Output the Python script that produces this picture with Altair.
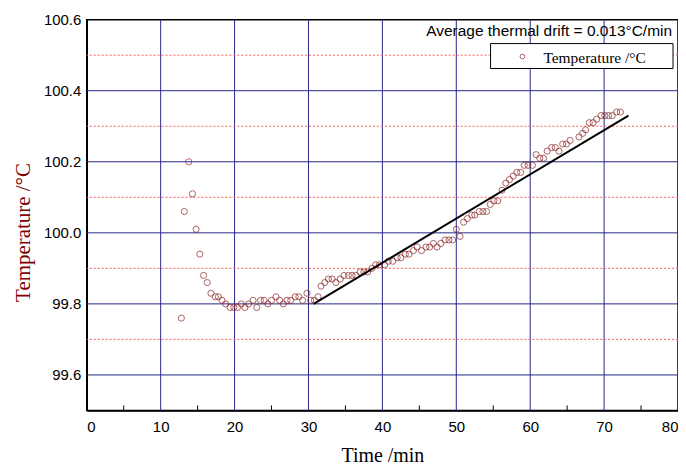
import altair as alt
import pandas as pd

# ---- data ----
time_min = [12.8, 13.2, 13.8, 14.3, 14.8, 15.3, 15.8, 16.3, 16.8, 17.4, 17.8, 18.3, 18.8, 19.4,
            19.9, 20.4, 20.9, 21.4, 21.9, 22.5, 23.0, 23.5, 24.0, 24.5, 25.0, 25.6, 26.1, 26.6,
            27.1, 27.6, 28.2, 28.7, 29.2, 29.8, 30.3, 30.8, 31.3,
            31.7, 32.2, 32.7, 33.2, 33.7, 34.3, 34.8, 35.4, 35.9, 36.4, 37.0, 37.5, 38.0, 38.6,
            39.1, 39.6, 40.3, 40.8, 41.4, 42.0, 42.5, 43.1, 43.6, 44.2, 44.7, 45.3, 45.9, 46.4,
            46.9, 47.4, 47.9, 48.5, 49.0, 49.5, 50.0, 50.5, 51.0, 51.5, 52.1, 52.5, 53.1, 53.6,
            54.1, 54.6, 55.1, 55.6, 56.2, 56.7, 57.2, 57.7, 58.2, 58.7, 59.2, 59.7, 60.3, 60.8,
            61.3, 61.8, 62.3, 62.9, 63.4, 63.9, 64.4, 64.9, 65.4, 66.6, 67.1, 67.5, 68.0, 68.5,
            69.0, 69.6, 70.1, 70.6, 71.1, 71.7, 72.2]
temperature = [99.76, 100.06, 100.20, 100.11, 100.01, 99.94, 99.88, 99.86, 99.83, 99.82, 99.82,
               99.81, 99.80, 99.79, 99.79, 99.79, 99.80, 99.79, 99.80, 99.81, 99.79, 99.81, 99.81,
               99.80, 99.81, 99.82, 99.81, 99.80, 99.81, 99.81, 99.82, 99.82, 99.81, 99.83, 99.81,
               99.81, 99.82,
               99.85, 99.86, 99.87, 99.87, 99.86, 99.87, 99.88, 99.88, 99.88, 99.88, 99.89, 99.89,
               99.89, 99.90, 99.91, 99.91, 99.91, 99.92, 99.92, 99.93, 99.93, 99.94, 99.94, 99.95,
               99.96, 99.95, 99.96, 99.96, 99.97, 99.96, 99.97, 99.98, 99.98, 99.98, 100.01, 99.99,
               100.03, 100.04, 100.05, 100.05, 100.06, 100.06, 100.06, 100.08, 100.09, 100.09,
               100.12, 100.14, 100.15, 100.16, 100.17, 100.17, 100.19, 100.19, 100.19, 100.22,
               100.21, 100.21, 100.23, 100.24, 100.24, 100.23, 100.25, 100.25, 100.26, 100.27,
               100.28, 100.29, 100.31, 100.31, 100.32, 100.33, 100.33, 100.33, 100.33, 100.34,
               100.34]
fit_time = [30.7, 73.3]
fit_temp = [99.80, 100.33]

x_ticks = [0, 10, 20, 30, 40, 50, 60, 70, 80]
x_grid = [10, 20, 30, 40, 50, 60, 70]
x_minor = [5, 15, 25, 35, 45, 55, 65, 75]
y_ticks = [99.6, 99.8, 100.0, 100.2, 100.4, 100.6]
y_grid = [99.6, 99.8, 100.0, 100.2, 100.4]
y_minor = [99.7, 99.9, 100.1, 100.3, 100.5]
series_name = "Temperature /°C"
note = "Average thermal drift = 0.013°C/min"

W, H = 593, 392
NAVY = "#26268a"
PT = "#8b2222"

pts = pd.DataFrame({"t": time_min, "T": temperature})
fit = pd.DataFrame({"t": fit_time, "T": fit_temp})

xs = alt.Scale(domain=[0, 80], nice=False, zero=False)
ys = alt.Scale(domain=[99.5, 100.6], nice=False, zero=False)

x_axis = alt.Axis(values=x_ticks, grid=False, ticks=False,
                  domainColor="black", domainWidth=1.5, labelFont="Liberation Sans",
                  labelFontSize=15, labelColor="black", labelPadding=9,
                  title="Time /min", titleFont="Liberation Serif", titleFontSize=20,
                  titleFontWeight="normal", titleColor="black", titlePadding=11)
y_axis = alt.Axis(values=y_ticks, format=".1f", grid=False,
                  ticks=False, domainColor="black", domainWidth=1.5,
                  labelFont="Liberation Sans", labelFontSize=15, labelColor="black",
                  labelPadding=6, title="Temperature /°C", titleFont="Liberation Serif",
                  titleFontSize=21, titleFontWeight="normal", titleColor="#800000",
                  titlePadding=10, titleY=213)

vgrid = alt.Chart(pd.DataFrame({"t": x_grid})).mark_rule(color=NAVY, strokeWidth=1).encode(
    x=alt.X("t:Q", scale=xs, axis=x_axis)
)
hgrid = alt.Chart(pd.DataFrame({"T": y_grid})).mark_rule(color=NAVY, strokeWidth=1).encode(
    y=alt.Y("T:Q", scale=ys, axis=y_axis)
)
red = alt.Chart(pd.DataFrame({"T": y_minor})).mark_rule(
    color="#ff5c5c", strokeDash=[2, 2], strokeWidth=1
).encode(y=alt.Y("T:Q", scale=ys, axis=y_axis))

ticks = alt.Chart(pd.DataFrame({"t": x_minor})).mark_rule(color="black", strokeWidth=1).encode(
    x=alt.X("t:Q", scale=xs, axis=x_axis),
    y=alt.value(H - 5), y2=alt.value(H)
)

points = alt.Chart(pts).mark_point(filled=False, size=38, strokeWidth=1, color=PT).encode(
    x=alt.X("t:Q", scale=xs, axis=x_axis),
    y=alt.Y("T:Q", scale=ys, axis=y_axis),
)

line = alt.Chart(fit).mark_line(color="black", strokeWidth=2).encode(
    x=alt.X("t:Q", scale=xs, axis=x_axis), y=alt.Y("T:Q", scale=ys, axis=y_axis)
)

txt = alt.Chart(pd.DataFrame({"label": [note]})).mark_text(
    align="right", baseline="middle", font="Liberation Sans", fontSize=15.5, color="black"
).encode(x=alt.value(W - 6), y=alt.value(11), text="label:N")

# legend box (decoration)
leg = pd.DataFrame({"label": [series_name]})
leg_box = alt.Chart(leg).mark_rect(fill="white", stroke="black", strokeWidth=1).encode(
    x=alt.value(405), x2=alt.value(588), y=alt.value(24), y2=alt.value(49)
)
leg_sym = alt.Chart(leg).mark_point(filled=False, size=22, strokeWidth=1, color=PT).encode(
    x=alt.value(437), y=alt.value(37)
)
leg_txt = alt.Chart(leg).mark_text(
    align="left", baseline="middle", font="Liberation Serif", fontSize=15.5, color="black"
).encode(x=alt.value(458), y=alt.value(38), text="label:N")

chart = alt.layer(vgrid, hgrid, red, ticks, points, line, txt,
                  leg_box, leg_sym, leg_txt).properties(
    width=W, height=H,
    background="white",
    autosize=alt.AutoSizeParams(type="none"),
    padding={"left": 79, "top": 11, "right": 0, "bottom": 54},
).configure_view(stroke="black", strokeWidth=1.5)

chart.save("out.html", embed_options={"renderer": "svg", "actions": False})
